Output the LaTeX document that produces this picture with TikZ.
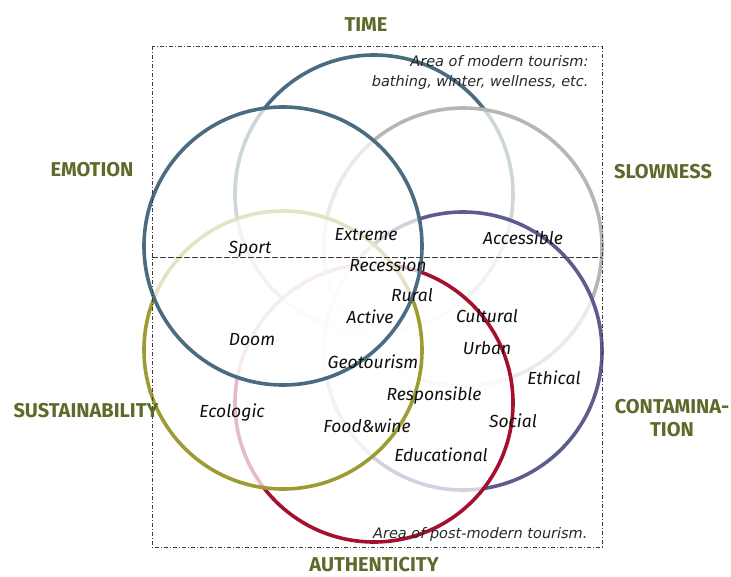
\documentclass[tikz,border=0pt]{standalone}
\usepackage{fontspec}
\setmainfont{Fira Sans}
\newfontfamily\notefont{DejaVu Sans}
\usetikzlibrary{positioning}
\definecolor{timeteal}{RGB}{75,108,128}
\definecolor{slowgray}{RGB}{182,182,182}
\definecolor{contampurple}{RGB}{92,92,142}
\definecolor{authred}{RGB}{165,16,46}
\definecolor{sustolive}{RGB}{156,156,50}
\definecolor{dimolive}{RGB}{92,106,42}
\definecolor{inkblack}{RGB}{15,15,15}
\definecolor{notegray}{RGB}{40,40,40}
\definecolor{framegray}{RGB}{60,60,60}
\begin{document}
\begin{tikzpicture}[
    x=1pt, y=-1pt,
    ring/.style={circle, draw=#1, line width=3.6pt, fill=white, fill opacity=0.72, minimum size=278pt, inner sep=0pt},
    dimension/.style={font=\bfseries\fontsize{20}{23}\selectfont, text=dimolive, align=center, inner sep=1pt},
    kind/.style={font=\itshape\fontsize{17.5}{20}\selectfont, text=inkblack},
    note/.style={font=\notefont\itshape\fontsize{14.5}{20}\selectfont, text=notegray, align=right},
    frame/.style={draw=framegray, line width=0.8pt, dash pattern=on 4pt off 2pt on 1pt off 2pt},
    split/.style={draw=framegray, line width=0.9pt, dash pattern=on 6pt off 2pt}
]
\useasboundingbox (0,0) rectangle (731,576);

% Circles (later ones fade the earlier lines)
\node[ring=timeteal] (time) at (374,194) {};
\node[ring=slowgray] (slow) at (463,247) {};
\node[ring=contampurple] (contam) at (463,351) {};
\node[ring=authred] (auth) at (374,403) {};
\node[ring=sustolive] (sust) at (283,350) {};
\node[ring=timeteal] (emo) at (283,246) {};

% Areas
\draw[frame] (152,46) rectangle (602,547);
\draw[split] (152,257) -- (602,257);

% Dimensions
\node[dimension] (timelab) at (366,25) {TIME};
\node[dimension] (emolab) at (92,170) {EMOTION};
\node[dimension] (slowlab) at (663,172) {SLOWNESS};
\node[dimension] (sustlab) at (86,411) {SUSTAINABILITY};
\node[dimension] (contamlab) at (672,418) {CONTAMINA-\\TION};
\node[dimension] (authlab) at (374,565) {AUTHENTICITY};

% Kinds of tourism
\node[kind] (sport) at (250,249) {Sport};
\node[kind] (extreme) at (366,235) {Extreme};
\node[kind] (access) at (523,238) {Accessible};
\node[kind] (recession) at (388,265) {Recession};
\node[kind] (rural) at (412,295) {Rural};
\node[kind] (active) at (370,317) {Active};
\node[kind] (cultural) at (487,316) {Cultural};
\node[kind] (doom) at (252,340) {Doom};
\node[kind] (urban) at (487,348) {Urban};
\node[kind] (geo) at (373,362) {Geotourism};
\node[kind] (ethical) at (554,378) {Ethical};
\node[kind] (respons) at (434,396) {Responsible};
\node[kind] (ecologic) at (232,413) {Ecologic};
\node[kind] (social) at (513,421) {Social};
\node[kind] (food) at (367,426) {Food\&wine};
\node[kind] (edu) at (441,455) {Educational};

% Notes
\node[note, anchor=east] (modern) at (592,72) {Area of modern tourism:\\bathing, winter, wellness, etc.};
\node[note, anchor=east] (postmodern) at (591,534) {Area of post-modern tourism.};

\end{tikzpicture}
\end{document}
